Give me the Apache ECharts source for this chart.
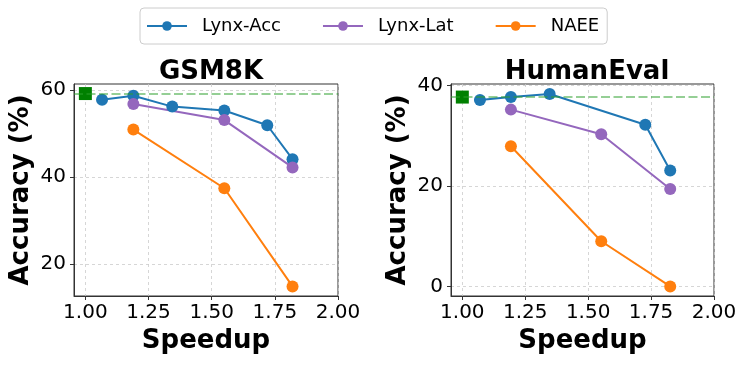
<!DOCTYPE html>
<html>
<head>
<meta charset="utf-8">
<script src="https://cdn.jsdelivr.net/npm/echarts@6/dist/echarts.min.js"></script>
<style>
  html, body { margin: 0; padding: 0; background: #fff; }
  #chart { width: 747px; height: 365px; }
</style>
</head>
<body>
<div id="chart"></div>
<script>
// tick labels
const xTicks = [1.0, 1.25, 1.5, 1.75, 2.0];
const gsmYTicks = [20, 40, 60];
const heYTicks = [0, 20, 40];

// GSM8K
const gsmAccX = [1.066, 1.19, 1.344, 1.55, 1.72, 1.82];
const gsmAccY = [57.8, 58.7, 56.2, 55.3, 51.9, 44.1];
const gsmLatX = [1.19, 1.55, 1.82];
const gsmLatY = [56.8, 53.1, 42.2];
const gsmNaeeX = [1.19, 1.55, 1.82];
const gsmNaeeY = [50.9, 37.4, 14.8];
const gsmBase = 59.2;

// HumanEval
const heAccX = [1.07, 1.193, 1.347, 1.727, 1.826];
const heAccY = [37.1, 37.7, 38.3, 32.2, 23.1];
const heLatX = [1.193, 1.552, 1.826];
const heLatY = [35.2, 30.3, 19.4];
const heNaeeX = [1.193, 1.552, 1.826];
const heNaeeY = [27.9, 9.0, 0.0];
const heBase = 37.7;

const colors = { acc: '#1f77b4', lat: '#9467bd', naee: '#ff7f0e' };

function pairs(xs, ys) {
  return xs.map((x, i) => [x, ys[i]]);
}

function xAxisFor(idx) {
  return {
    type: 'value', gridIndex: idx, min: 0.955, max: 2.0,
    name: 'Speedup', nameLocation: 'middle', nameGap: 32,
    nameTextStyle: { fontSize: 26, fontWeight: 'bold', color: '#000', fontFamily: 'DejaVu Sans' },
    axisLine: { show: true, onZero: false, lineStyle: { color: '#333', width: 1 } },
    axisTick: { show: true, length: 4, customValues: xTicks, lineStyle: { color: '#333' } },
    axisLabel: { customValues: xTicks, fontSize: 20, color: '#000', margin: 7,
      fontFamily: 'DejaVu Sans', formatter: v => v.toFixed(2) },
    splitLine: { show: true, lineStyle: { type: [3, 3], color: '#ccc', width: 0.8 } }
  };
}

function yAxisFor(idx, min, max, ticks) {
  return {
    type: 'value', gridIndex: idx, min: min, max: max,
    name: 'Accuracy (%)', nameLocation: 'middle', nameGap: 40,
    nameTextStyle: { fontSize: 26, fontWeight: 'bold', color: '#000', fontFamily: 'DejaVu Sans' },
    axisLine: { show: true, lineStyle: { color: '#333', width: 1 } },
    axisTick: { show: true, length: 4, customValues: ticks, lineStyle: { color: '#333' } },
    axisLabel: { customValues: ticks, fontSize: 20, color: '#000', margin: 8, fontFamily: 'DejaVu Sans' },
    splitLine: { show: true, lineStyle: { type: [3, 3], color: '#ccc', width: 0.8 } }
  };
}

function lineSeries(name, idx, xs, ys, color) {
  return {
    name: name, type: 'line', xAxisIndex: idx, yAxisIndex: idx,
    data: pairs(xs, ys), symbol: 'circle', symbolSize: 12,
    color: color, lineStyle: { width: 2, color: color },
    itemStyle: { color: color, opacity: 1 }, z: 3
  };
}

function baseSeries(idx, y) {
  return {
    name: 'Baseline', type: 'scatter', xAxisIndex: idx, yAxisIndex: idx,
    data: [[1.0, y]], symbol: 'rect', symbolSize: 13,
    itemStyle: { color: '#008000', opacity: 1 }, z: 4,
    markLine: {
      silent: true, symbol: ['none', 'none'], label: { show: false },
      lineStyle: { type: [9, 3.5], color: 'rgba(44,160,44,0.5)', width: 2.2, opacity: 1 },
      data: [{ yAxis: y }]
    }
  };
}

let chartDom = document.getElementById('chart');
let myChart = echarts.init(chartDom, null, { renderer: 'canvas' });
let option = {
  animation: false,
  textStyle: { fontFamily: 'DejaVu Sans' },
  title: [
    { text: 'GSM8K', left: 206, top: 54, textAlign: 'center',
      textStyle: { fontSize: 26, fontWeight: 'bold', color: '#000', fontFamily: 'DejaVu Sans' } },
    { text: 'HumanEval', left: 582, top: 54, textAlign: 'center',
      textStyle: { fontSize: 26, fontWeight: 'bold', color: '#000', fontFamily: 'DejaVu Sans' } }
  ],
  legend: {
    data: ['Lynx-Acc', 'Lynx-Lat', 'NAEE'],
    left: 140, top: 8,
    orient: 'horizontal',
    itemWidth: 40, itemHeight: 12, itemGap: 41,
    padding: [9, 8, 9, 6],
    borderColor: '#ccc', borderWidth: 1, borderRadius: 4,
    textStyle: { fontSize: 18, color: '#000', fontFamily: 'DejaVu Sans', padding: [0, 0, 0, 10] }
  },
  grid: [
    { left: 74, top: 84, width: 264, height: 212, show: true, borderColor: '#333', borderWidth: 1, backgroundColor: 'transparent' },
    { left: 451, top: 84, width: 263, height: 212, show: true, borderColor: '#333', borderWidth: 1, backgroundColor: 'transparent' }
  ],
  xAxis: [xAxisFor(0), xAxisFor(1)],
  yAxis: [yAxisFor(0, 12.6, 61.4, gsmYTicks), yAxisFor(1, -1.9, 40.3, heYTicks)],
  series: [
    lineSeries('Lynx-Acc', 0, gsmAccX, gsmAccY, colors.acc),
    lineSeries('Lynx-Lat', 0, gsmLatX, gsmLatY, colors.lat),
    lineSeries('NAEE', 0, gsmNaeeX, gsmNaeeY, colors.naee),
    baseSeries(0, gsmBase),
    lineSeries('Lynx-Acc', 1, heAccX, heAccY, colors.acc),
    lineSeries('Lynx-Lat', 1, heLatX, heLatY, colors.lat),
    lineSeries('NAEE', 1, heNaeeX, heNaeeY, colors.naee),
    baseSeries(1, heBase)
  ]
};
option && myChart.setOption(option);
</script>
</body>
</html>
